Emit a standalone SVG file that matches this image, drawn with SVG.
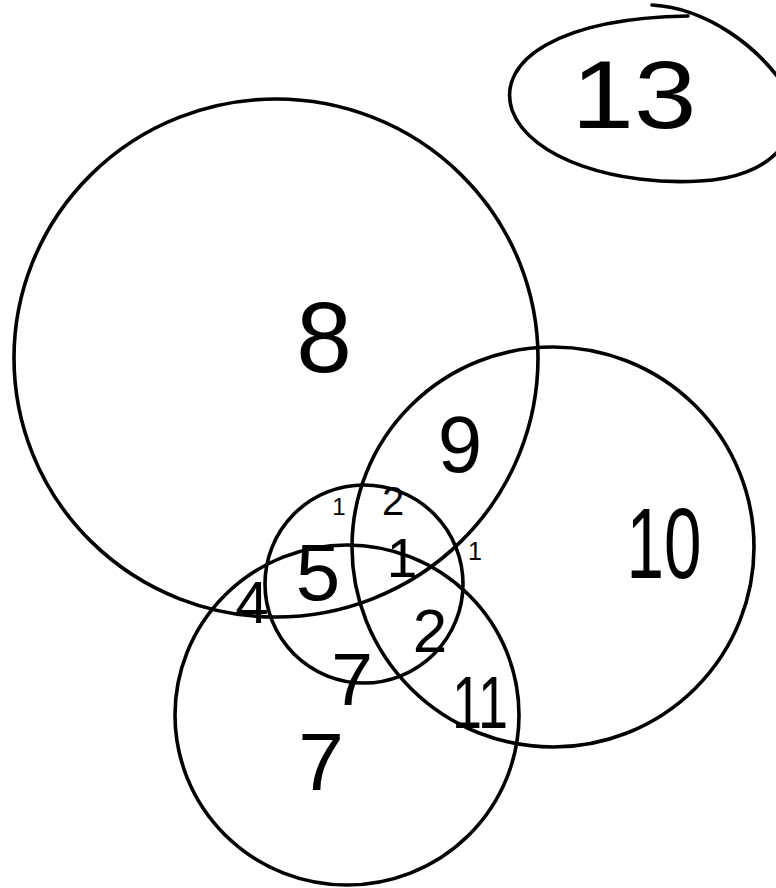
<svg xmlns="http://www.w3.org/2000/svg" width="776" height="888" viewBox="0 0 776 888">
<style>
.set{fill:none;stroke:#000;stroke-width:3.6;stroke-linecap:round}
.lbl{font-family:"Liberation Sans","DejaVu Sans",sans-serif;fill:#000;text-anchor:middle}
</style>
<rect width="776" height="888" fill="#fff"/>
<g id="setA"><ellipse class="set" cx="276" cy="358" rx="262" ry="259"/></g>
<g id="setB"><ellipse class="set" cx="553" cy="547" rx="201" ry="200"/></g>
<g id="setC"><ellipse class="set" cx="347" cy="715" rx="172" ry="170"/></g>
<g id="setD"><ellipse class="set" cx="364" cy="584" rx="99" ry="99"/></g>
<g id="outside">
<path class="set" d="M652,5 C705,8 760,45 790,95 C805,135 772,178 700,181 C620,186 530,160 512,110 C496,60 560,18 688,16"/>
<text class="lbl" x="634" y="128" font-size="97" textLength="125" lengthAdjust="spacingAndGlyphs">13</text>
</g>
<g id="labels">
<text class="lbl" x="324" y="372" font-size="100">8</text>
<text class="lbl" x="460" y="472" font-size="80">9</text>
<text class="lbl" x="664" y="578" font-size="100" textLength="75" lengthAdjust="spacingAndGlyphs">10</text>
<text class="lbl" x="318" y="600" font-size="80">5</text>
<text class="lbl" x="402" y="577" font-size="55">1</text>
<text class="lbl" x="430" y="652" font-size="62">2</text>
<text class="lbl" x="393" y="515" font-size="40">2</text>
<text class="lbl" x="339" y="515" font-size="24">1</text>
<text class="lbl" x="475" y="560" font-size="25">1</text>
<text class="lbl" x="252" y="623" font-size="60">4</text>
<text class="lbl" x="352" y="705" font-size="75">7</text>
<text class="lbl" x="480" y="728" font-size="75" textLength="56" lengthAdjust="spacingAndGlyphs">11</text>
<text class="lbl" x="321" y="790" font-size="82">7</text>
</g>
<g id="connectors"/>
</svg>
